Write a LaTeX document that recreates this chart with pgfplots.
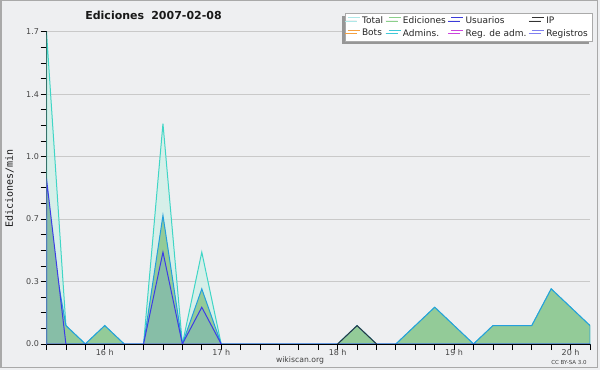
\documentclass[border=0pt]{standalone}
\usepackage{fontspec}
\setmainfont{DejaVu Sans}
\setmonofont{DejaVu Sans Mono}
\usepackage{pgfplots}
\usepackage{pgfplotstable}
\pgfplotsset{compat=1.18}
\usetikzlibrary{shadows}
\definecolor{bgc}{RGB}{238,239,241}
\definecolor{gridc}{RGB}{201,201,201}
\definecolor{framec}{RGB}{169,169,169}
\definecolor{tickc}{RGB}{68,68,68}
\definecolor{totalline}{RGB}{63,214,198}
\definecolor{totalfill}{RGB}{205,239,230}
\definecolor{edfill}{RGB}{147,203,152}
\definecolor{edline}{RGB}{36,159,221}
\definecolor{usline}{RGB}{60,60,230}
\definecolor{usfill}{RGB}{135,190,167}
\definecolor{legTotal}{RGB}{174,232,232}
\definecolor{legEd}{RGB}{139,208,139}
\definecolor{legUs}{RGB}{59,59,217}
\definecolor{legIP}{RGB}{51,51,51}
\definecolor{legBots}{RGB}{245,160,64}
\definecolor{legAdm}{RGB}{64,200,216}
\definecolor{legReg}{RGB}{204,68,221}
\definecolor{legRegis}{RGB}{128,128,240}
\definecolor{legframe}{RGB}{170,170,170}
\definecolor{shadowc}{RGB}{150,150,150}

\pgfplotstableread{
t total ed us
0 1.7 0.7 0.9
10 0.1 0.1 0
20 0 0 0
30 0.1 0.1 0
40 0 0 0
50 0 0 0
60 1.2 0.7 0.5
70 0 0 0
80 0.5 0.3 0.2
90 0 0 0
100 0 0 0
110 0 0 0
120 0 0 0
130 0 0 0
140 0 0 0
150 0 0 0
160 0.1 0.1 0
170 0 0 0
180 0 0 0
190 0.1 0.1 0
200 0.2 0.2 0
210 0.1 0.1 0
220 0 0 0
230 0.1 0.1 0
240 0.1 0.1 0
250 0.1 0.1 0
260 0.3 0.3 0
270 0.2 0.2 0
280 0.1 0.1 0
}\data

\pgfplotstableread{
t ip
150 0
160 0.1
170 0
}\ipdata

\begin{document}
\begin{tikzpicture}[x=1pt,y=1pt]
\useasboundingbox (0,0) rectangle (600,370);
\fill[bgc] (0,0) rectangle (600,370);
\draw[framec,line width=1.5pt] (1,2.5) rectangle (597.5,369.25);
\begin{axis}[
  at={(46.5pt,26pt)}, anchor=south west,
  scale only axis, width=543.5pt, height=312.3pt,
  xmin=0, xmax=280, ymin=0, ymax=1.7,
  axis x line*=bottom, axis y line*=left,
  axis line style={black,line width=0.8pt,-},
  tick align=outside, major tick length=6pt, minor tick length=6pt,
  tick style={black,line width=0.8pt},
  xtick={30,90,150,210,270},
  xticklabels={16 h,17 h,18 h,19 h,20 h},
  minor xtick={0,10,...,280},
  ytick={0,0.34,0.68,1.02,1.36,1.7},
  yticklabels={0.0,0.3,0.7,1.0,1.4,1.7},
  minor ytick={0.085,0.17,0.255,0.425,0.51,0.595,0.765,0.85,0.935,1.105,1.19,1.275,1.445,1.53,1.615},
  ymajorgrids,
  major grid style={gridc,line width=0.8pt},
  tick label style={font=\fontsize{8}{9}\selectfont, text=tickc},
  xticklabel style={yshift=4.5pt},
  yticklabel style={xshift=2pt},
  legend columns=4,
  legend cell align=left,
  legend image code/.code={\draw[#1,line width=0.9pt] (0pt,2.8pt) -- (12pt,2.8pt);},
  legend style={at={(axis description cs:1.0037,1.061)}, anchor=north east,
    draw=legframe, fill=white, font=\fontsize{9}{9}\selectfont, text=black!85,
    inner xsep=2pt, inner ysep=1.5pt, row sep=0.5pt,
    drop shadow={shadow xshift=-3pt, shadow yshift=-3pt, fill=shadowc, opacity=1},
    /tikz/every even column/.append style={column sep=3pt}},
]
\addplot[draw=totalline, line width=1pt, fill=totalfill, fill opacity=0.7, forget plot] table[x=t,y=total]{\data} \closedcycle;
\addplot[draw=edline, line width=1pt, fill=edfill, forget plot] table[x=t,y=ed]{\data} \closedcycle;
\addplot[draw=usline, line width=1pt, fill=usfill, forget plot] table[x=t,y=us]{\data} \closedcycle;
\addplot[draw=legIP, line width=0.9pt, forget plot] table[x=t,y=ip]{\ipdata};
\draw[black,line width=0.8pt] (rel axis cs:0,0) -- (rel axis cs:1,0);
\addlegendimage{color=legTotal}\addlegendentry{Total}
\addlegendimage{color=legEd}\addlegendentry{Ediciones}
\addlegendimage{color=legUs}\addlegendentry{Usuarios}
\addlegendimage{color=legIP}\addlegendentry{IP}
\addlegendimage{color=legBots}\addlegendentry{Bots}
\addlegendimage{color=legAdm}\addlegendentry{Admins.}
\addlegendimage{color=legReg}\addlegendentry{Reg. de adm.}
\addlegendimage{color=legRegis}\addlegendentry{Registros}
\end{axis}
\node[font=\bfseries\fontsize{11}{12}\selectfont, text=black!90] at (153.5,354.5) {Ediciones\hspace{0.65em}2007-02-08};
\node[rotate=90, font=\ttfamily\fontsize{10}{11}\selectfont, text=black!90] at (9.5,181.5) {Ediciones/min};
\node[font=\fontsize{7.7}{8}\selectfont, text=black!75] at (300,9.3) {wikiscan.org};
\node[font=\fontsize{5.5}{6}\selectfont, text=black!75] at (569,7.5) {CC BY-SA 3.0};
\end{tikzpicture}
\end{document}
